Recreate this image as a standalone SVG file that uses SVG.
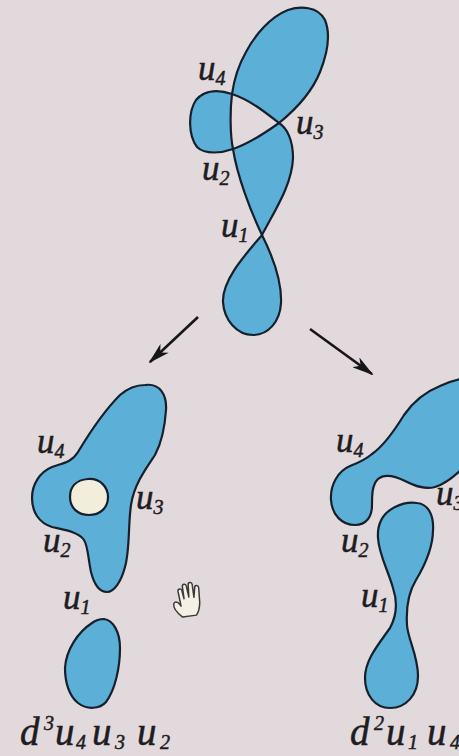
<svg xmlns="http://www.w3.org/2000/svg" width="459" height="756" viewBox="0 0 459 756">
  <defs>
    <style>
      .bg { fill: #e2d9dc; }
      .region { fill: #5cafd6; stroke: #16202c; stroke-width: 2.2; stroke-linejoin: round; fill-rule: evenodd; }
      .hole { fill: #f3eedb; stroke: #16202c; stroke-width: 2.2; }
      .lbl { font-family: "Liberation Serif", "DejaVu Serif", serif; font-style: italic; font-size: 35px; fill: #1c1c22; stroke: #1c1c22; stroke-width: 0.5; }
      .sub { font-size: 20px; }
      .word { font-family: "Liberation Serif", "DejaVu Serif", serif; font-style: italic; font-size: 39px; fill: #1c1c22; stroke: #1c1c22; stroke-width: 0.5; }
      .word .sub { font-size: 20px; }
      .arrow { stroke: #15151a; stroke-width: 2.6; fill: none; marker-end: url(#head); }
      .cursor { fill: #f5f0e4; stroke: #3a3a3a; stroke-width: 1.5; stroke-linejoin: round; }
    </style>
    <marker id="head" viewBox="0 0 22 12" refX="20" refY="6" markerWidth="22" markerHeight="12" markerUnits="userSpaceOnUse" orient="auto">
      <path d="M0,0 L22,6 L0,12 L6,6 Z" fill="#15151a"/>
    </marker>
  </defs>

  <rect class="bg" x="0" y="0" width="459" height="756"/>

  <!-- self-crossing curve with double points u1..u4 -->
  <g id="curve-top">
    <path class="region" d="M262,235
      C275,210 292,185 293,158 C293,140 287,128 279,123
      C265,112 250,100 232,94
      C220,90 205,89 196,100 C188,112 188,135 197,147 C205,155 222,153 233,149
      C248,144 265,133 279,123
      C295,110 312,92 320,72 C328,52 331,35 325,20 C318,6 300,6 288,10 C270,17 255,35 246,52 C238,66 234,80 232,94
      C230,110 230,135 233,149
      C237,175 250,210 262,235
      C272,255 282,280 281,303 C280,322 268,335 253,335 C237,335 224,320 223,302 C222,280 245,255 262,235 Z"/>
    <text class="lbl" x="198" y="80">u<tspan class="sub" dy="5">4</tspan></text>
    <text class="lbl" x="296" y="134">u<tspan class="sub" dy="5">3</tspan></text>
    <text class="lbl" x="202" y="180">u<tspan class="sub" dy="5">2</tspan></text>
    <text class="lbl" x="221" y="237">u<tspan class="sub" dy="5">1</tspan></text>
  </g>

  <!-- resolution d^3 u4 u3 u2 -->
  <g id="curve-left">
    <path class="region" d="M145,385
      C160,383 167,395 166,410 C165,425 163,440 155,455
      C145,470 134,485 131,505 C128,525 130,550 125,567
      C121,582 114,592 107,592 C99,592 94,584 91,572
      C88,558 88,546 84,540 C79,532 65,530 52,527
      C39,523 32,512 32,498 C32,484 40,472 52,467
      C64,463 72,462 78,452 C90,432 105,410 120,395
      C128,388 136,385 145,385 Z"/>
    <path class="hole" d="M88,479 C100,478 108,487 108,497 C108,508 100,515 89,515 C78,515 70,508 70,497 C70,487 76,480 88,479 Z"/>
    <path class="region" d="M104,619 C113,620 120,632 120,648 C120,668 115,690 106,702 C100,709 87,710 78,703 C69,696 65,682 65,668 C66,650 78,632 92,623 C96,620 100,619 104,619 Z"/>
    <text class="lbl" x="37" y="453">u<tspan class="sub" dy="5">4</tspan></text>
    <text class="lbl" x="136" y="509">u<tspan class="sub" dy="5">3</tspan></text>
    <text class="lbl" x="43" y="552">u<tspan class="sub" dy="5">2</tspan></text>
    <text class="lbl" x="63" y="609">u<tspan class="sub" dy="5">1</tspan></text>
    <text class="word" y="745"><tspan x="20">d</tspan><tspan class="sub" x="44" dy="-15">3</tspan><tspan x="55" dy="15">u</tspan><tspan class="sub" x="76" dy="4">4</tspan><tspan x="92" dy="-4">u</tspan><tspan class="sub" x="115" dy="4">3</tspan><tspan x="137" dy="-4">u</tspan><tspan class="sub" x="160" dy="4">2</tspan></text>
  </g>

  <!-- resolution d^2 u1 u4 -->
  <g id="curve-right">
    <path class="region" d="M485,380
      C472,376 455,379 440,386 C425,392 413,402 404,415
      C396,428 385,445 372,454 C365,460 358,463 350,466
      C338,471 330,485 331,500 C332,515 342,525 355,525
      C366,525 372,517 372,505 C372,495 372,485 378,479
      C385,473 395,476 405,481 C415,486 425,490 435,487
      C445,484 455,476 465,466 L485,440 Z"/>
    <path class="region" d="M417,503 C428,504 434,515 433,530 C433,548 425,565 416,580 C408,593 406,608 407,625 C408,640 418,655 418,676 C418,695 406,708 390,708 C375,708 365,695 365,678 C365,660 378,645 390,628 C397,615 397,600 393,588 C388,570 379,555 378,538 C377,522 385,512 395,507 C403,503 410,502 417,503 Z"/>
    <text class="lbl" x="336" y="452">u<tspan class="sub" dy="5">4</tspan></text>
    <text class="lbl" x="436" y="505">u<tspan class="sub" dy="5">3</tspan></text>
    <text class="lbl" x="341" y="552">u<tspan class="sub" dy="5">2</tspan></text>
    <text class="lbl" x="361" y="607">u<tspan class="sub" dy="5">1</tspan></text>
    <text class="word" y="745"><tspan x="350">d</tspan><tspan class="sub" x="374" dy="-15">2</tspan><tspan x="386" dy="15">u</tspan><tspan class="sub" x="408" dy="4">1</tspan><tspan x="427" dy="-4">u</tspan><tspan class="sub" x="450" dy="4">4</tspan></text>
  </g>

  <g id="connectors">
    <line class="arrow" x1="198" y1="317" x2="150" y2="362"/>
    <line class="arrow" x1="310" y1="329" x2="372" y2="374"/>
  </g>

  <!-- hand pointer -->
  <g id="hand-cursor" transform="translate(170,578) rotate(-8 19 20)">
    <path class="cursor" d="M10,38 C6,34 2,28 3,24 C4,21 7,22 9,25 L10,27 L9,12 C9,9 13,9 13,12 L14,20 L14,8 C14,5 18,5 18,8 L19,19 L20,7 C20,4 24,4 24,7 L24,20 L26,11 C26,8 30,8 30,11 L29,26 C28,32 26,36 24,38 Z"/>
  </g>
</svg>
